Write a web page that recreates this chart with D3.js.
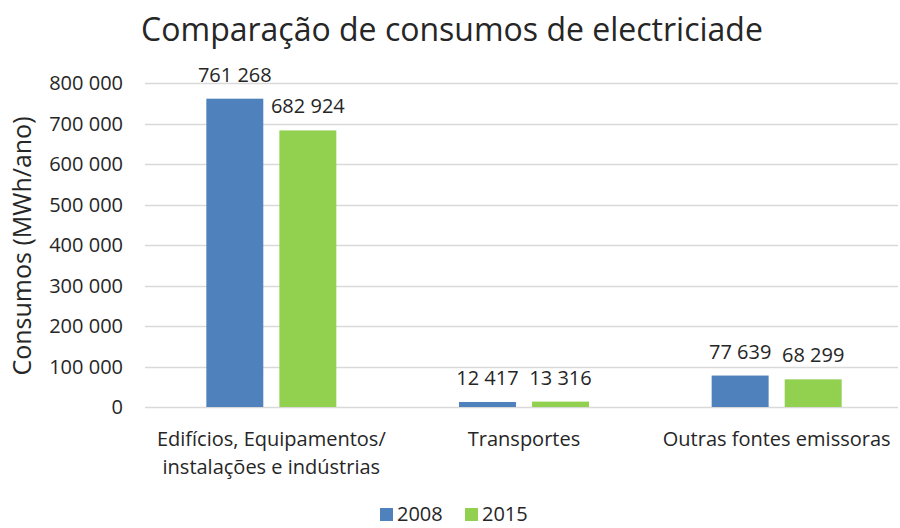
<!DOCTYPE html>
<html>
<head>
<meta charset="utf-8">
<script src="https://cdn.jsdelivr.net/npm/d3@7"></script>
<style>
  body { margin: 0; background: #fff; }
  text { font-family: "Open Sans", sans-serif; fill: #262626; }
</style>
</head>
<body>
<div id="chart"></div>
<script>
var categories = [
  ["Edifícios, Equipamentos/", "instalações e indústrias"],
  ["Transportes"],
  ["Outras fontes emissoras"]
];
var series = ["2008", "2015"];
var values2008 = [761268, 12417, 77639];
var values2015 = [682924, 13316, 68299];
var colours = ["#4f81bd", "#92d050"];
var yTicks = [0, 100000, 200000, 300000, 400000, 500000, 600000, 700000, 800000];

var width = 900, height = 528;
var plotLeft = 145, plotRight = 903, plotTop = 83, plotBottom = 407;

var svg = d3.select("#chart")
  .append("svg")
    .attr("width", width)
    .attr("height", height);

var fmt = function(v) {
  return d3.format(",")(v).replace(/,/g, " ");
};

var y = d3.scaleLinear()
  .domain([0, 800000])
  .range([plotBottom, plotTop]);

var x0 = d3.scaleBand()
  .domain(d3.range(categories.length))
  .range([plotLeft, plotRight]);

var x1 = d3.scaleBand()
  .domain(series)
  .range([x0.bandwidth() / 2 - 65, x0.bandwidth() / 2 + 65])
  .paddingInner(0.22);

// title
svg.append("text")
  .attr("x", 452)
  .attr("y", 41)
  .attr("text-anchor", "middle")
  .style("font-size", "32px")
  .text("Comparação de consumos de electriciade");

// grid
svg.append("g")
  .selectAll("line")
  .data(yTicks)
  .enter()
  .append("line")
    .attr("x1", plotLeft)
    .attr("x2", 898)
    .attr("y1", d => Math.round(y(d)) + 0.5)
    .attr("y2", d => Math.round(y(d)) + 0.5)
    .style("stroke", "#d9d9d9")
    .style("stroke-width", 1.3);

// y tick labels
svg.append("g")
  .selectAll("text")
  .data(yTicks)
  .enter()
  .append("text")
    .attr("x", 123)
    .attr("y", d => y(d) + 7)
    .attr("text-anchor", "end")
    .style("font-size", "20px")
    .text(d => fmt(d));

// y axis title
svg.append("text")
  .attr("transform", "translate(31, 246) rotate(-90)")
  .attr("text-anchor", "middle")
  .style("font-size", "25px")
  .text("Consumos (MWh/ano)");

var rows = categories.map(function(c, i) {
  return { i: i, vals: [values2008[i], values2015[i]] };
});

var groups = svg.selectAll(".grp")
  .data(rows)
  .enter()
  .append("g")
    .attr("class", "grp")
    .attr("transform", d => "translate(" + x0(d.i) + ",0)");

groups.selectAll("rect")
  .data(d => d.vals.map((v, k) => ({ s: series[k], v: v, k: k })))
  .enter()
  .append("rect")
    .attr("x", d => x1(d.s))
    .attr("width", x1.bandwidth())
    .attr("y", d => y(d.v))
    .attr("height", d => plotBottom - y(d.v))
    .style("fill", d => colours[d.k]);

groups.selectAll(".lbl")
  .data(d => d.vals.map((v, k) => ({ s: series[k], v: v, k: k })))
  .enter()
  .append("text")
    .attr("class", "lbl")
    .attr("x", d => x1(d.s) + x1.bandwidth() / 2)
    .attr("y", d => y(d.v) - 17)
    .attr("text-anchor", "middle")
    .style("font-size", "20px")
    .text(d => fmt(d.v));

// category labels
groups.append("text")
  .attr("x", x0.bandwidth() / 2)
  .attr("text-anchor", "middle")
  .style("font-size", "20px")
  .selectAll("tspan")
  .data(d => categories[d.i])
  .enter()
  .append("tspan")
    .attr("x", x0.bandwidth() / 2)
    .attr("y", (d, i) => 446 + i * 28)
    .text(d => d);

// legend
var legend = svg.append("g")
  .selectAll("g")
  .data(series)
  .enter()
  .append("g")
    .attr("transform", (d, i) => "translate(" + (380 + i * 85) + ",0)");

legend.append("rect")
  .attr("y", 508)
  .attr("width", 13)
  .attr("height", 13)
  .style("fill", (d, i) => colours[i]);

legend.append("text")
  .attr("x", 17)
  .attr("y", 521)
  .style("font-size", "20px")
  .text(d => d);
</script>
</body>
</html>
